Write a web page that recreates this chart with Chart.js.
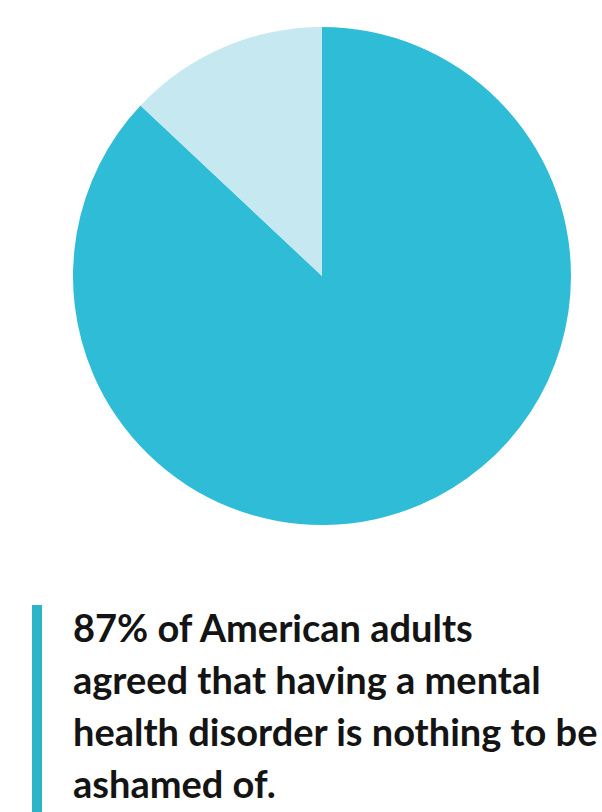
<!DOCTYPE html>
<html>
<head>
<meta charset="utf-8">
<script src="https://cdn.jsdelivr.net/npm/chart.js@4/dist/chart.umd.min.js"></script>
<style>
  html, body { margin: 0; padding: 0; background: #ffffff; }
  #wrap { position: relative; width: 602px; height: 812px; overflow: hidden; }
  #pieBox { position: absolute; left: 0; top: 0; width: 602px; height: 552px; }
  #bar { position: absolute; left: 32px; top: 605px; width: 10px; height: 207px; background: #2bb5c6; }
  #caption {
    position: absolute; left: 73px; top: 601px; width: 529px;
    font-family: Lato, "Open Sans", sans-serif; font-weight: 700;
    font-size: 38px; line-height: 52px; color: #141414; white-space: nowrap;
  }
</style>
</head>
<body>
<div id="wrap">
  <div id="pieBox"><canvas id="pie"></canvas></div>
  <div id="bar"></div>
  <div id="caption"></div>
</div>
<script>
// Survey share: agreed vs. did not agree
const categories = ["Agreed", "Did not agree"];
const shares = [87, 13];
const sliceColors = ["#2ebcd7", "#c6e9f1"];
const captionLines = [
  "87% of American adults",
  "agreed that having a mental",
  "health disorder is nothing to be",
  "ashamed of."
];

document.getElementById("caption").innerHTML = captionLines.join("<br>");

new Chart(document.getElementById("pie"), {
  type: "pie",
  data: {
    labels: categories,
    datasets: [{
      data: shares,
      backgroundColor: sliceColors,
      borderWidth: 0
    }]
  },
  options: {
    responsive: true,
    maintainAspectRatio: false,
    animation: false,
    rotation: 0,
    layout: { padding: { left: 73, right: 31, top: 27, bottom: 27 } },
    plugins: {
      legend: { display: false },
      tooltip: { enabled: false }
    }
  }
});
</script>
</body>
</html>
